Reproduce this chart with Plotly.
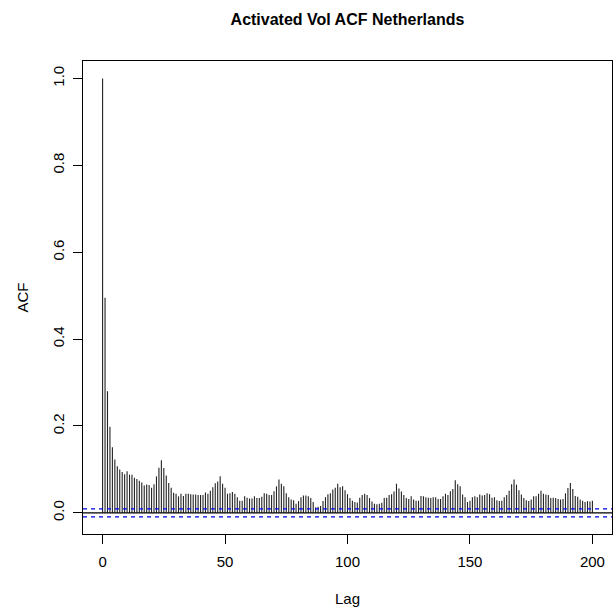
import plotly.graph_objects as go

lags = list(range(0, 201))
acf = [
    1.000, 0.495, 0.280, 0.198, 0.151, 0.123, 0.107, 0.100, 0.094, 0.089,
    0.096, 0.088, 0.088, 0.081, 0.078, 0.074, 0.070, 0.063, 0.065, 0.064,
    0.058, 0.066, 0.084, 0.104, 0.121, 0.103, 0.086, 0.069, 0.058, 0.046,
    0.044, 0.038, 0.044, 0.039, 0.044, 0.044, 0.043, 0.042, 0.042, 0.041,
    0.041, 0.041, 0.047, 0.044, 0.051, 0.059, 0.068, 0.072, 0.084, 0.067,
    0.058, 0.044, 0.045, 0.048, 0.044, 0.036, 0.028, 0.028, 0.038, 0.035,
    0.033, 0.033, 0.038, 0.034, 0.034, 0.037, 0.045, 0.044, 0.041, 0.041,
    0.050, 0.061, 0.077, 0.067, 0.061, 0.045, 0.036, 0.031, 0.029, 0.021,
    0.027, 0.036, 0.040, 0.040, 0.038, 0.034, 0.025, 0.013, 0.014, 0.016,
    0.027, 0.036, 0.043, 0.045, 0.054, 0.058, 0.067, 0.059, 0.061, 0.052,
    0.043, 0.034, 0.028, 0.025, 0.024, 0.035, 0.041, 0.044, 0.041, 0.034,
    0.026, 0.021, 0.020, 0.021, 0.023, 0.034, 0.035, 0.041, 0.043, 0.049,
    0.067, 0.056, 0.049, 0.041, 0.034, 0.032, 0.038, 0.031, 0.028, 0.028,
    0.039, 0.038, 0.036, 0.035, 0.034, 0.036, 0.036, 0.032, 0.032, 0.038,
    0.044, 0.041, 0.050, 0.055, 0.075, 0.066, 0.061, 0.042, 0.036, 0.025,
    0.028, 0.036, 0.038, 0.036, 0.042, 0.040, 0.041, 0.045, 0.043, 0.035,
    0.036, 0.029, 0.027, 0.028, 0.036, 0.041, 0.051, 0.066, 0.077, 0.065,
    0.052, 0.042, 0.034, 0.029, 0.027, 0.031, 0.038, 0.038, 0.044, 0.051,
    0.044, 0.042, 0.041, 0.034, 0.035, 0.034, 0.032, 0.031, 0.032, 0.045,
    0.057, 0.069, 0.055, 0.039, 0.037, 0.031, 0.028, 0.025, 0.027, 0.026,
    0.028,
]
ci = 0.0092
x_ticks = [0, 50, 100, 150, 200]
y_ticks = [0.0, 0.2, 0.4, 0.6, 0.8, 1.0]
y_tick_labels = ["0.0", "0.2", "0.4", "0.6", "0.8", "1.0"]
title_text = "Activated Vol ACF Netherlands"
x_title = "Lag"
y_title = "ACF"

FONT = "Liberation Sans, Arial, Helvetica, sans-serif"

# vertical spikes built from the data arrays
xs, ys = [], []
for lag, v in zip(lags, acf):
    xs += [lag, lag, None]
    ys += [0, v, None]

fig = go.Figure()
fig.add_trace(go.Scatter(x=xs, y=ys, mode="lines",
                         line=dict(color="#222222", width=1.1),
                         hoverinfo="skip", showlegend=False))

# zero line and confidence bounds
fig.add_hline(y=0, line=dict(color="black", width=1.1))
fig.add_hline(y=ci, line=dict(color="blue", width=1.1, dash="4px,4px"))
fig.add_hline(y=-ci, line=dict(color="blue", width=1.1, dash="4px,4px"))

W, H = 614, 613
fig.update_layout(
    width=W, height=H,
    margin=dict(l=83, r=2, t=61, b=79),
    paper_bgcolor="white", plot_bgcolor="white",
    font=dict(family=FONT, size=15, color="black"),
    showlegend=False,
    title=dict(text="<b>" + title_text + "</b>", x=(83 + 612) / 2 / W, xanchor="center",
               y=1 - 19 / H, yanchor="middle", yref="container",
               font=dict(family=FONT, size=16, color="black")),
    xaxis=dict(range=[-8, 208], tickvals=x_ticks, ticks="outside", ticklen=9,
               tickcolor="black", tickwidth=1, showline=True, mirror=True,
               linecolor="black", linewidth=1, showgrid=False, zeroline=False,
               ticklabelstandoff=5),
    yaxis=dict(range=[-0.0487, 1.0403], tickvals=y_ticks, ticktext=y_tick_labels,
               tickangle=-90, ticks="outside", ticklen=9,
               tickcolor="black", tickwidth=1, showline=True, mirror=True,
               linecolor="black", linewidth=1, showgrid=False, zeroline=False,
               ticklabelstandoff=3),
    annotations=[
        dict(text=x_title, xref="paper", yref="paper", x=0.5, y=-(598 - 534) / (534 - 61),
             xanchor="center", yanchor="middle", showarrow=False,
             font=dict(family=FONT, size=15)),
        dict(text=y_title, xref="paper", yref="paper", x=-(83 - 22) / (612 - 83), y=0.5,
             xanchor="center", yanchor="middle", showarrow=False, textangle=-90,
             font=dict(family=FONT, size=15)),
    ],
)

fig.write_html("out.html",
               config={"displayModeBar": False},
               post_script="document.body.style.margin='0';document.body.style.padding='0';"
                           "document.body.style.overflow='hidden';")
